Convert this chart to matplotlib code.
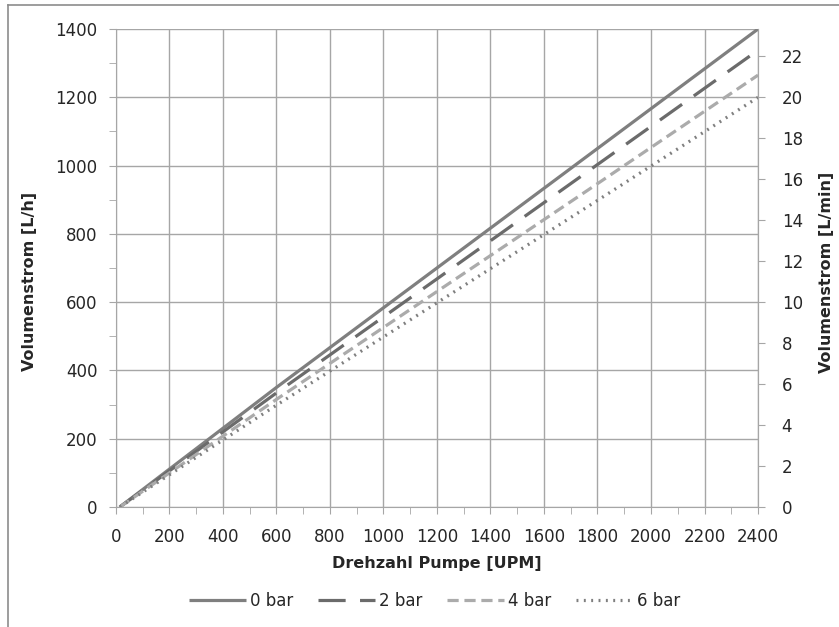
import matplotlib.pyplot as plt
from matplotlib.ticker import MultipleLocator
from matplotlib.lines import Line2D
import numpy as np

plt.rcParams['font.family'] = ['DejaVu Sans']

# Data
rpm = np.array([15, 600, 1200, 1800, 2400])
flow_0bar = np.array([0, 350, 700, 1050, 1400])
flow_2bar = np.array([0, 334, 668, 1003, 1338])
flow_4bar = np.array([0, 315, 631, 947, 1265])
flow_6bar = np.array([0, 298, 598, 898, 1200])
labels = ['0 bar', '2 bar', '4 bar', '6 bar']

grid_col = '#a6a6a6'
text_col = '#262626'

fig = plt.figure(figsize=(8.39, 6.27), dpi=100)
ax1 = fig.add_axes([0.138, 0.1914, 0.7655, 0.7623])

l0, = ax1.plot(rpm, flow_0bar, color='#7f7f7f', lw=2.3, solid_capstyle='butt')
l2, = ax1.plot(rpm, flow_2bar, color='#6b6b6b', lw=2.3, dashes=(8.5, 4.5))
l4, = ax1.plot(rpm, flow_4bar, color='#ababab', lw=2.3, dashes=(3.5, 1.8))
l6, = ax1.plot(rpm, flow_6bar, color='#7f7f7f', lw=2.3, dashes=(0.6, 1.7))

ax1.set_xlim(0, 2400)
ax1.set_ylim(0, 1400)
ax1.xaxis.set_major_locator(MultipleLocator(200))
ax1.xaxis.set_minor_locator(MultipleLocator(100))
ax1.yaxis.set_major_locator(MultipleLocator(200))
ax1.yaxis.set_minor_locator(MultipleLocator(100))
ax1.grid(True, which='major', color=grid_col, lw=1)
ax1.set_axisbelow(True)
ax1.spines['top'].set_visible(False)
for s in ['left', 'bottom', 'right']:
    ax1.spines[s].set_color(grid_col)
ax1.tick_params(which='both', color=grid_col, labelcolor=text_col, labelsize=12, length=5)
ax1.tick_params(axis='x', pad=10)
ax1.tick_params(axis='y', pad=8)
ax1.set_xlabel('Drehzahl Pumpe [UPM]', fontsize=11.5, fontweight='bold', color=text_col, labelpad=7)
ax1.set_ylabel('Volumenstrom [L/h]', fontsize=11.5, fontweight='bold', color=text_col, labelpad=8)
ax1.yaxis.set_label_coords(-0.122, 0.472)

ax2 = ax1.twinx()
ax2.set_ylim(0, 1400 / 60)
ax2.yaxis.set_major_locator(MultipleLocator(2))
for s in ['top', 'left', 'bottom']:
    ax2.spines[s].set_visible(False)
ax2.spines['right'].set_color(grid_col)
ax2.tick_params(color=grid_col, labelcolor=text_col, labelsize=12, length=5, pad=12)
ax2.set_ylabel('Volumenstrom [L/min]', fontsize=11.5, fontweight='bold', color=text_col, labelpad=16)
ax2.yaxis.set_label_coords(1.095, 0.49)

fig.legend([l0, l2, l4, l6], labels, loc='center', bbox_to_anchor=(0.518, 0.041),
           ncol=4, frameon=False, fontsize=12, handlelength=3.4, handletextpad=0.25,
           columnspacing=1.5, labelcolor=text_col)

# outer chart border (only top and left edges are visible)
fig.add_artist(Line2D([0.0095, 1.0], [0.992, 0.992], transform=fig.transFigure,
                      color='#8c8c8c', lw=1.2))
fig.add_artist(Line2D([0.0095, 0.0095], [0.0, 0.992], transform=fig.transFigure,
                      color='#8c8c8c', lw=1.2))

fig.savefig('out.png', dpi=100)
